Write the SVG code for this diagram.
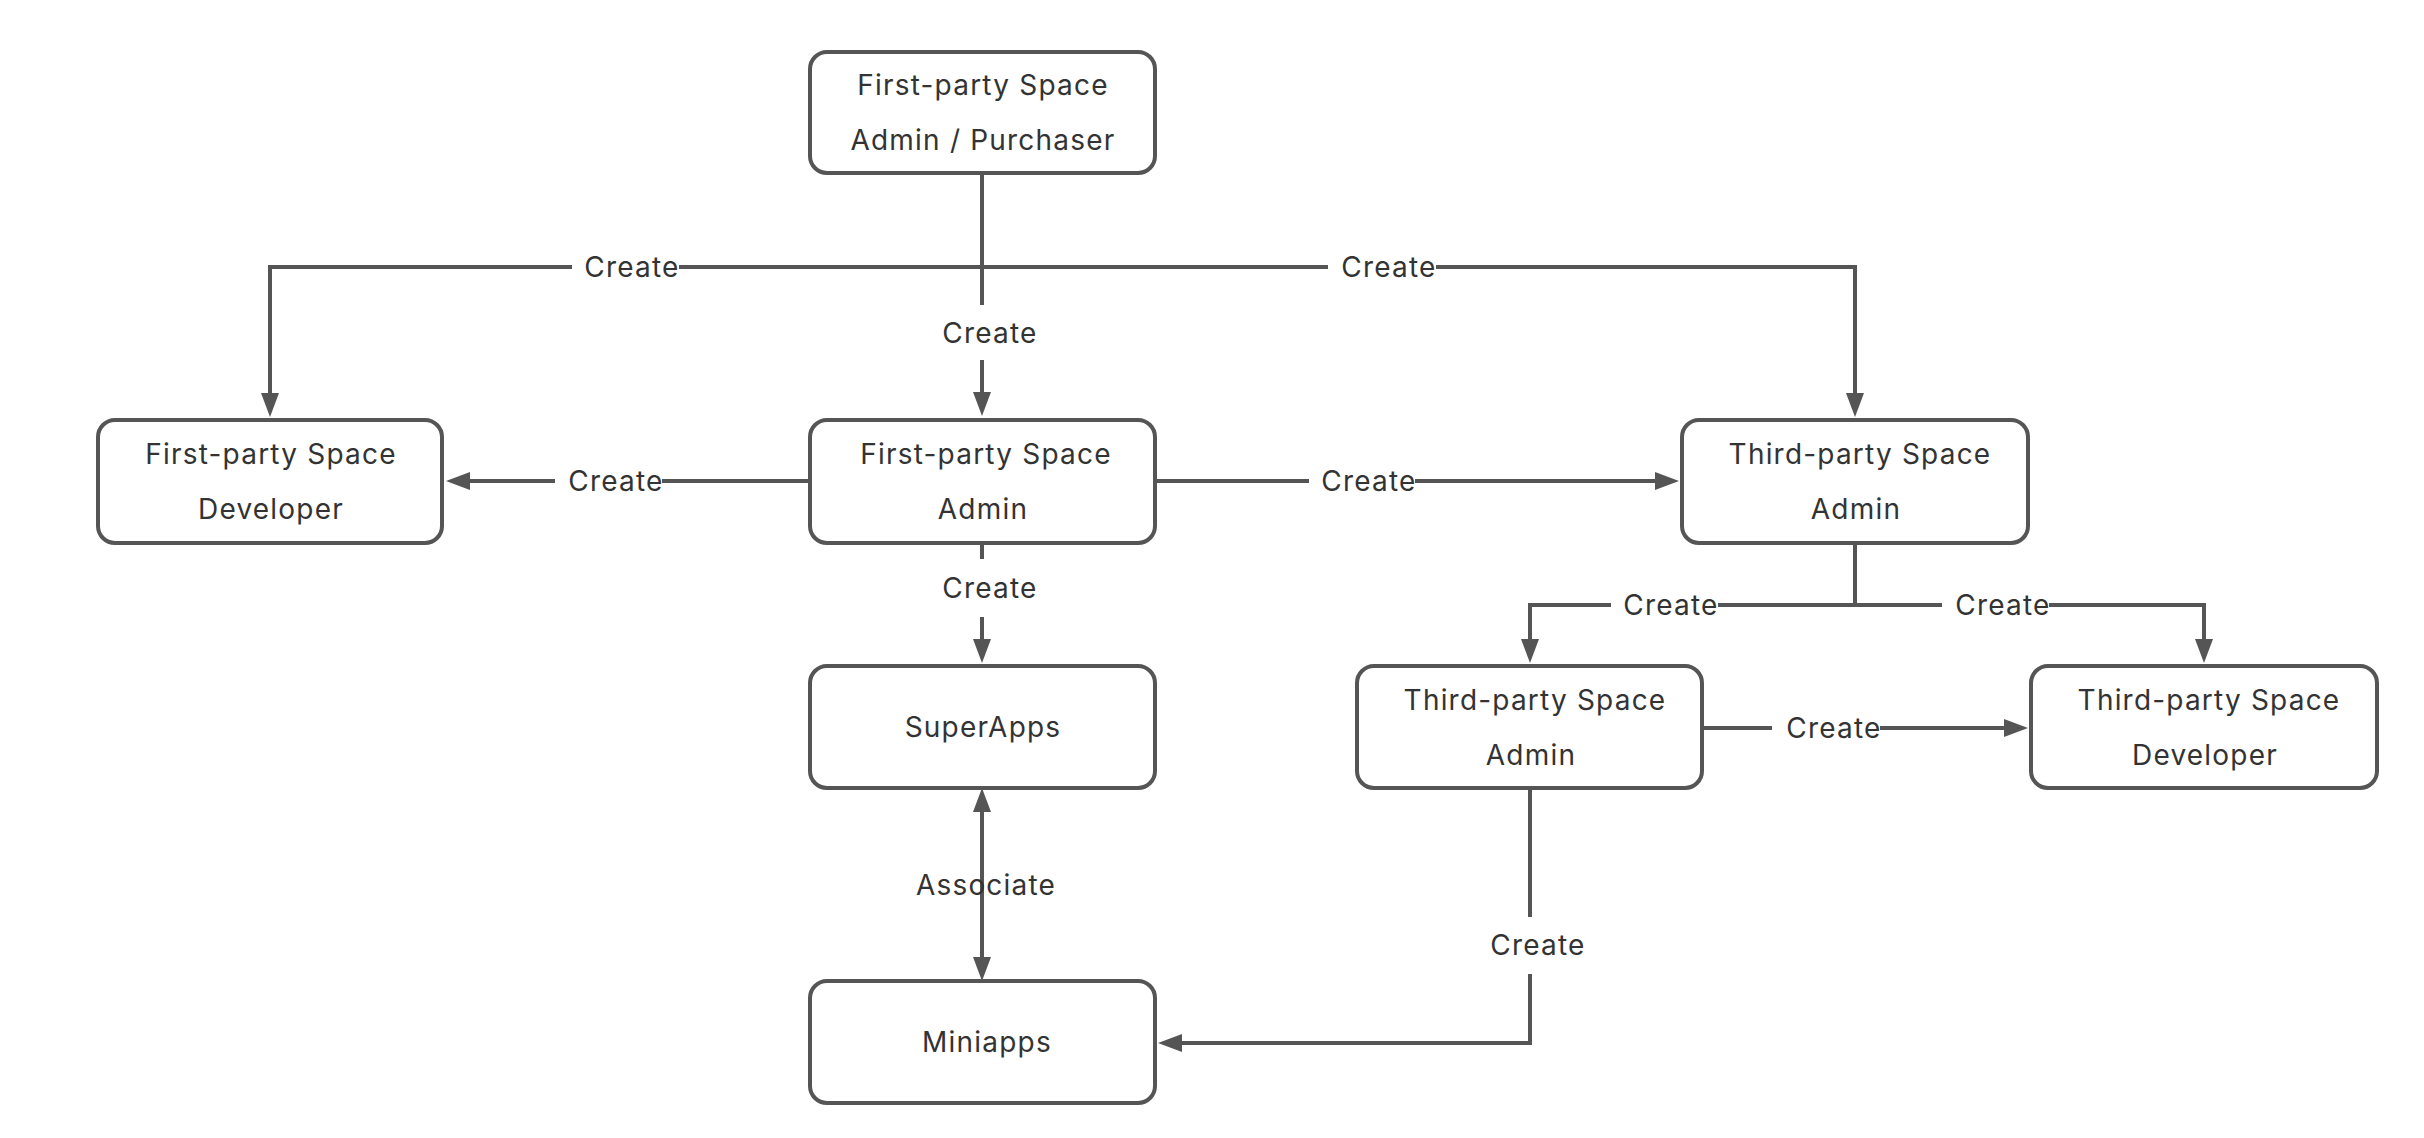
<svg xmlns="http://www.w3.org/2000/svg" width="2424" height="1138" viewBox="0 0 2424 1138">
<style>
.box{fill:#ffffff;stroke:#555555;stroke-width:4}
.t{font-family:Inter,"Noto Sans","Liberation Sans",sans-serif;font-size:28px;letter-spacing:1.2px;fill:#333333;text-anchor:middle}
.ln{fill:none;stroke:#555555;stroke-width:4}
</style>
<defs>
<marker id="arr" viewBox="0 0 24 18" markerWidth="24" markerHeight="18" refX="16" refY="9" orient="auto-start-reverse" markerUnits="userSpaceOnUse">
<path d="M0,0 L24,9 L0,18 z" fill="#555555"/>
</marker>
</defs>
<rect width="2424" height="1138" fill="#ffffff"/>
<g id="connectors">
<path class="ln" d="M982,173 V305"/>
<path class="ln" d="M982,360 V408" marker-end="url(#arr)"/>
<path class="ln" d="M679,267 H1328"/>
<path class="ln" d="M572,267 H270 V409" marker-end="url(#arr)"/>
<path class="ln" d="M1436,267 H1855 V409" marker-end="url(#arr)"/>
<path class="ln" d="M810,481 H662"/>
<path class="ln" d="M555,481 H454" marker-end="url(#arr)"/>
<path class="ln" d="M1155,481 H1309"/>
<path class="ln" d="M1415,481 H1671" marker-end="url(#arr)"/>
<path class="ln" d="M982,543 V559"/>
<path class="ln" d="M982,617 V655" marker-end="url(#arr)"/>
<path class="ln" d="M1855,543 V605 H1718"/>
<path class="ln" d="M1611,605 H1530 V655" marker-end="url(#arr)"/>
<path class="ln" d="M1855,605 H1942"/>
<path class="ln" d="M2049,605 H2204 V655" marker-end="url(#arr)"/>
<path class="ln" d="M1702,728 H1772"/>
<path class="ln" d="M1880,728 H2020" marker-end="url(#arr)"/>
<path class="ln" d="M982,796 V973" marker-start="url(#arr)" marker-end="url(#arr)"/>
<path class="ln" d="M1530,788 V917"/>
<path class="ln" d="M1530,974 V1043 H1166" marker-end="url(#arr)"/>
<text class="t" x="632" y="277">Create</text>
<text class="t" x="1389" y="277">Create</text>
<text class="t" x="990" y="343">Create</text>
<text class="t" x="616" y="491">Create</text>
<text class="t" x="1369" y="491">Create</text>
<text class="t" x="990" y="598">Create</text>
<text class="t" x="1671" y="615">Create</text>
<text class="t" x="2003" y="615">Create</text>
<text class="t" x="1834" y="738">Create</text>
<text class="t" x="986" y="895">Associate</text>
<text class="t" x="1538" y="955">Create</text>
</g>
<g id="n-top">
<rect class="box" x="810" y="52" width="345" height="121" rx="17"/>
<text class="t" x="983" y="95">First-party Space</text>
<text class="t" x="983" y="150">Admin / Purchaser</text>
</g>
<g id="n-fp-dev">
<rect class="box" x="98" y="420" width="344" height="123" rx="17"/>
<text class="t" x="271" y="464">First-party Space</text>
<text class="t" x="271" y="519">Developer</text>
</g>
<g id="n-fp-admin">
<rect class="box" x="810" y="420" width="345" height="123" rx="17"/>
<text class="t" x="986" y="464">First-party Space</text>
<text class="t" x="983" y="519">Admin</text>
</g>
<g id="n-tp-admin-top">
<rect class="box" x="1682" y="420" width="346" height="123" rx="17"/>
<text class="t" x="1860" y="464">Third-party Space</text>
<text class="t" x="1856" y="519">Admin</text>
</g>
<g id="n-superapps">
<rect class="box" x="810" y="666" width="345" height="122" rx="17"/>
<text class="t" x="983" y="737">SuperApps</text>
</g>
<g id="n-tp-admin-low">
<rect class="box" x="1357" y="666" width="345" height="122" rx="17"/>
<text class="t" x="1535" y="710">Third-party Space</text>
<text class="t" x="1531" y="765">Admin</text>
</g>
<g id="n-tp-dev">
<rect class="box" x="2031" y="666" width="346" height="122" rx="17"/>
<text class="t" x="2209" y="710">Third-party Space</text>
<text class="t" x="2205" y="765">Developer</text>
</g>
<g id="n-miniapps">
<rect class="box" x="810" y="981" width="345" height="122" rx="17"/>
<text class="t" x="987" y="1052">Miniapps</text>
</g>
</svg>
